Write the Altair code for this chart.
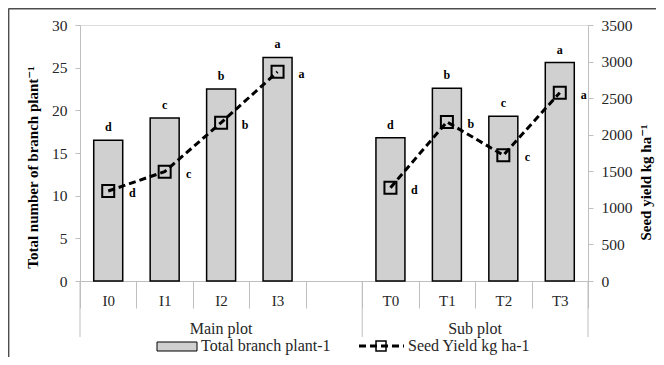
import altair as alt
import pandas as pd

# ---- data ----
categories = ["I0", "I1", "I2", "I3", "T0", "T1", "T2", "T3"]
x_domain = ["I0", "I1", "I2", "I3", " ", "T0", "T1", "T2", "T3"]
plot_group = ["Main plot"] * 4 + ["Sub plot"] * 4
branches = [16.5, 19.1, 22.5, 26.2, 16.8, 22.6, 19.3, 25.6]
yields = [1230, 1495, 2165, 2860, 1275, 2175, 1720, 2575]
branch_letters = ["d", "c", "b", "a", "d", "b", "c", "a"]
yield_letters = ["d", "c", "b", "a", "d", "b", "c", "a"]
left_ticks = [0, 5, 10, 15, 20, 25, 30]
right_ticks = [0, 500, 1000, 1500, 2000, 2500, 3000, 3500]
legend_labels = ["Total branch plant-1", "Seed Yield kg ha-1"]

FONT = "'Times New Roman', 'Liberation Serif', 'DejaVu Serif', serif"
FILL = "#d0d0d0"
GRAY = "#bfbfbf"

df = pd.DataFrame({
    "cat": categories,
    "grp": plot_group,
    "branch": branches,
    "yield": yields,
    "bl": branch_letters,
    "yl": yield_letters,
})

xscale = alt.Scale(domain=x_domain, paddingInner=0, paddingOuter=0)
xaxis = alt.Axis(
    title=None, labelAngle=0, tickBand="extent", tickSize=27, tickColor=GRAY,
    domainColor=GRAY, labelFont=FONT, labelFontSize=15, labelColor="#262626",
    labelPadding=-15, labelBaseline="top", grid=False,
)
X = alt.X("cat:N", scale=xscale, axis=xaxis)

base = alt.Chart(df)

yl = alt.Y(
    "branch:Q",
    scale=alt.Scale(domain=[0, 30]),
    axis=alt.Axis(
        orient="left", values=left_ticks, title="Total number of branch plant⁻¹",
        titleFont=FONT, titleFontSize=15, titleFontWeight="bold", titleColor="black",
        titleX=-48, titleY=142, titleAlign="center", titleBaseline="middle",
        labelFont=FONT, labelFontSize=15.5, labelColor="#262626", labelPadding=8,
        tickSize=5, tickColor=GRAY, domainColor=GRAY, grid=False, format="d",
    ),
)
yr = alt.Y(
    "yield:Q",
    scale=alt.Scale(domain=[0, 3500]),
    axis=alt.Axis(
        orient="right", values=right_ticks, title="Seed yield kg ha⁻¹",
        titleFont=FONT, titleFontSize=15, titleFontWeight="bold", titleColor="black",
        titleX=57, titleY=157, titleAngle=270, titleAlign="center", titleBaseline="middle",
        labelFont=FONT, labelFontSize=15.5, labelColor="#262626", labelPadding=8,
        tickSize=5, tickColor=GRAY, domainColor=GRAY, grid=False, format="d",
    ),
)

bars = base.mark_bar(width=29, fill=FILL, stroke="black", strokeWidth=1.5).encode(x=X, y=yl)
bar_text = base.mark_text(dy=-13, font=FONT, fontSize=12, fontWeight="bold", color="black").encode(
    x=X, y=yl, text="bl:N")

line = base.mark_line(color="black", strokeDash=[7, 4], strokeWidth=3).encode(
    x=X, y=yr, detail="grp:N")
pts = base.mark_point(shape="square", size=144, filled=False, stroke="black",
                      strokeWidth=2, opacity=1).encode(x=X, y=yr)
line_text = base.mark_text(dx=24, dy=2, font=FONT, fontSize=12, fontWeight="bold",
                           color="black").encode(x=X, y=yr, text="yl:N")

# group separators and group labels
edges = pd.DataFrame({"cat": ["I0", "T0"]})
edge_rules = alt.Chart(edges).mark_rule(color=GRAY, strokeWidth=1).encode(
    x=alt.X("cat:N", scale=xscale, bandPosition=0, axis=xaxis),
    y=alt.value(256), y2=alt.value(312))
end_rule = alt.Chart(pd.DataFrame({"cat": ["T3"]})).mark_rule(color=GRAY, strokeWidth=1).encode(
    x=alt.X("cat:N", scale=xscale, bandPosition=1, axis=xaxis),
    y=alt.value(256), y2=alt.value(312))
main_lbl = alt.Chart(pd.DataFrame({"cat": ["I2"], "g": ["Main plot"]})).mark_text(
    font=FONT, fontSize=16, color="#262626", baseline="middle").encode(
    x=alt.X("cat:N", scale=xscale, bandPosition=0.5, axis=xaxis), y=alt.value(304), text="g:N")
sub_lbl = alt.Chart(pd.DataFrame({"cat": ["T1"], "g": ["Sub plot"]})).mark_text(
    font=FONT, fontSize=16, color="#262626", baseline="middle").encode(
    x=alt.X("cat:N", scale=xscale, bandPosition=1, axis=xaxis), y=alt.value(304), text="g:N")

# manual legend
one = pd.DataFrame({"a": [0]})
leg_rect = alt.Chart(one).mark_rect(fill=FILL, stroke="black", strokeWidth=1).encode(
    x=alt.value(77), x2=alt.value(117), y=alt.value(317), y2=alt.value(326))
leg_t1 = alt.Chart(pd.DataFrame({"t": [legend_labels[0]]})).mark_text(
    font=FONT, fontSize=16, color="#262626", align="left", baseline="middle").encode(
    x=alt.value(121), y=alt.value(321), text="t:N")
leg_line = alt.Chart(one).mark_rule(color="black", strokeDash=[7, 4], strokeWidth=3).encode(
    x=alt.value(279), x2=alt.value(324), y=alt.value(321))
leg_pt = alt.Chart(one).mark_point(shape="square", size=100, filled=False, stroke="black",
                                   strokeWidth=1.5, opacity=1).encode(
    x=alt.value(301), y=alt.value(321))
leg_t2 = alt.Chart(pd.DataFrame({"t": [legend_labels[1]]})).mark_text(
    font=FONT, fontSize=16, color="#262626", align="left", baseline="middle").encode(
    x=alt.value(328), y=alt.value(321), text="t:N")

# chart-area frame (only top and left edges are visible in the reference)
frame_top = alt.Chart(one).mark_rule(color="#4d4d4d", strokeWidth=1.8).encode(
    x=alt.value(-71.5), x2=alt.value(600), y=alt.value(-16.5))
frame_left = alt.Chart(one).mark_rule(color="#4d4d4d", strokeWidth=1.8).encode(
    x=alt.value(-71.5), y=alt.value(-16.5), y2=alt.value(400))

left = alt.layer(frame_top, frame_left, edge_rules, end_rule, main_lbl, sub_lbl, bars, bar_text,
                 leg_rect, leg_t1, leg_line, leg_pt, leg_t2)
right = alt.layer(line, pts, line_text)

chart = alt.layer(left, right).resolve_scale(y="independent").properties(
    width=508, height=256,
    padding={"left": 72, "top": 17, "right": 68, "bottom": 76},
    autosize=alt.AutoSizeParams(type="none"),
).configure_view(stroke=None).configure(background="white")

chart.save("out.html", embed_options={"renderer": "svg", "actions": False})
